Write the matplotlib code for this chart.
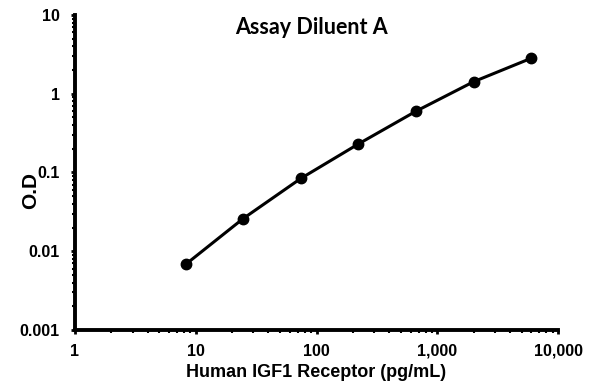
import matplotlib
matplotlib.use("Agg")
from matplotlib import pyplot as plt
from matplotlib.ticker import FixedLocator, FixedFormatter, LogLocator, NullFormatter

# standard curve data
concentration = [8.23, 24.7, 74.1, 222, 667, 2000, 6000]
od = [0.0068, 0.026, 0.084, 0.23, 0.60, 1.42, 2.82]

x_ticks = [1, 10, 100, 1000, 10000]
x_labels = ["1", "10", "100", "1,000", "10,000"]
y_ticks = [0.001, 0.01, 0.1, 1, 10]
y_labels = ["0.001", "0.01", "0.1", "1", "10"]

plt.rcParams['font.family'] = ['Liberation Sans', 'DejaVu Sans']

fig = plt.figure(figsize=(5.95, 3.92), dpi=100)
ax = fig.add_axes([0.126, 0.158, 0.812, 0.804])

ax.plot(concentration, od, color='black', linewidth=2.2, marker='o', markersize=7.5)

ax.set_xscale('log')
ax.set_yscale('log')
ax.set_xlim(1, 10000)
ax.set_ylim(0.001, 10)

ax.xaxis.set_major_locator(FixedLocator(x_ticks))
ax.xaxis.set_major_formatter(FixedFormatter(x_labels))
ax.yaxis.set_major_locator(FixedLocator(y_ticks))
ax.yaxis.set_major_formatter(FixedFormatter(y_labels))
ax.xaxis.set_minor_locator(LogLocator(base=10, subs=range(2, 10)))
ax.yaxis.set_minor_locator(LogLocator(base=10, subs=range(2, 10)))
ax.xaxis.set_minor_formatter(NullFormatter())
ax.yaxis.set_minor_formatter(NullFormatter())

for side in ['top', 'right']:
    ax.spines[side].set_visible(False)
for side in ['left', 'bottom']:
    ax.spines[side].set_linewidth(2.8)

ax.tick_params(which='major', direction='out', length=3, width=2, labelsize=11.5)
ax.tick_params(axis='x', which='major', pad=7)
ax.tick_params(axis='y', which='major', pad=8)
ax.tick_params(which='minor', direction='out', length=2, width=1.5)
for lab in ax.get_xticklabels() + ax.get_yticklabels():
    lab.set_fontweight('bold')

ax.set_xlabel('Human IGF1 Receptor (pg/mL)', fontsize=13, fontweight='bold')
ax.xaxis.set_label_coords(0.5, -0.108)
ax.set_ylabel('O.D', fontsize=15, fontweight='bold')
ax.yaxis.set_label_coords(-0.072, 0.444)
fig.text(0.523, 0.93, 'Assay Diluent A', ha='center', va='center',
         fontsize=15.5, fontweight='bold', family=['Lato', 'DejaVu Sans'])

fig.savefig('out.png', dpi=100)
